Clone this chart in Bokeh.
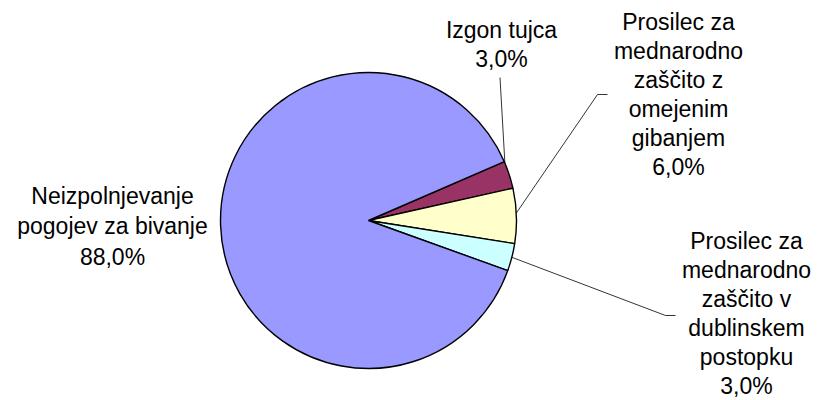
import math
from bokeh.plotting import figure
from bokeh.models import Range1d
from bokeh.core.properties import value
from bokeh.embed import file_html
from bokeh.resources import INLINE

# ---- data ----
categories = [
    "Izgon tujca",
    "Prosilec za\nmednarodno\nzaščito z\nomejenim\ngibanjem",
    "Prosilec za\nmednarodno\nzaščito v\ndublinskem\npostopku",
    "Neizpolnjevanje\npogojev za bivanje",
]
shares = [3.0, 6.0, 3.0, 88.0]
colors = ["#993366", "#FFFFCC", "#CCFFFF", "#9999FF"]

# ---- layout (page pixel coordinates) ----
W, H = 818, 400
CX, CY, R = 368, 220, 148
START_DEG = 23.4
FONT = "Liberation Sans"
FSIZE = "23px"
label_first_line = [(501, 29), (678, 21), (746, 240), (112, 195)]
label_pitch = [29, 29, 29, 30.5]
leader_frac = [0.05, 0.45, 0.5, None]
leader_pts = [[(499.5, 77)], [(597, 94), (607, 94)], [(665, 315), (675, 315)], None]


def dy(sy):
    return H - sy


p = figure(width=W, height=H, x_range=Range1d(0, W), y_range=Range1d(0, H),
           output_backend="svg", toolbar_location=None, min_border=0,
           x_axis_type=None, y_axis_type=None, outline_line_color=None)
p.grid.visible = False
p.background_fill_color = "white"
p.border_fill_color = "white"

total = sum(shares)
cum = 0.0
a0s, a1s = [], []
for v in shares:
    a0 = START_DEG - cum / total * 360.0
    a1 = a0 - v / total * 360.0
    a0s.append(math.radians(a0))
    a1s.append(math.radians(a1))
    cum += v

p.wedge(x=[CX] * len(shares), y=[dy(CY)] * len(shares), radius=R,
        start_angle=a0s, end_angle=a1s, direction="clock",
        fill_color=colors, line_color="black", line_width=1.4)

# leader lines
for i, pts in enumerate(leader_pts):
    if pts is None:
        continue
    ang = a0s[i] + (a1s[i] - a0s[i]) * leader_frac[i]
    ax = CX + R * math.cos(ang)
    ay = dy(CY) + R * math.sin(ang)
    xs = [ax] + [q[0] for q in pts]
    ys = [ay] + [dy(q[1]) for q in pts]
    p.line(xs, ys, line_color="black", line_width=0.8)

# labels
for i, (cat, v) in enumerate(zip(categories, shares)):
    pct = f"{v:.1f}".replace(".", ",") + "%"
    lines = cat.split("\n") + [pct]
    x0, y0 = label_first_line[i]
    for k, ln in enumerate(lines):
        p.text(x=[x0], y=[dy(y0 + k * label_pitch[i])], text=[ln],
               text_align="center", text_baseline="middle",
               text_font=value(FONT), text_font_size=FSIZE, text_color="black")

open("out.html", "w").write(file_html(p, INLINE))
